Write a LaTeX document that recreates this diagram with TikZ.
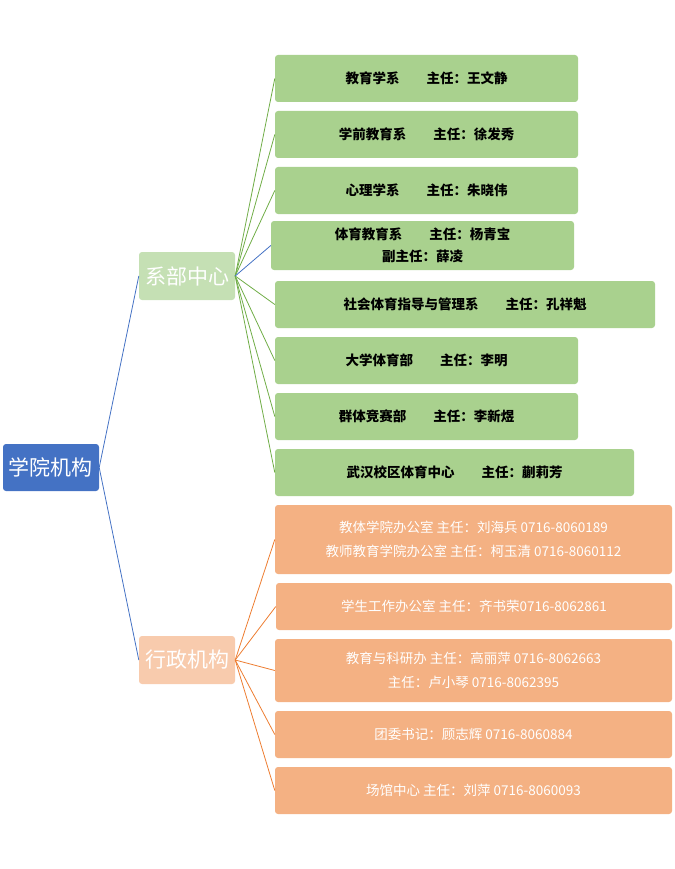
\documentclass[tikz,border=0pt]{standalone}
\usepackage{fontspec}
\setmainfont{Noto Sans CJK SC}
\definecolor{gfill}{HTML}{A9D18E}\definecolor{ofill}{HTML}{F4B183}
\definecolor{gline}{HTML}{70AD47}\definecolor{oline}{HTML}{ED7D31}\definecolor{bline}{HTML}{4472C4}
\definecolor{cgreen}{HTML}{C5E0B4}\definecolor{corange}{HTML}{F8CBAD}
\begin{document}
\begin{tikzpicture}[x=1pt,y=-1pt,
 g/.style={fill=gfill,rounded corners=3pt,draw=none,align=center,font=\fontsize{13.5}{22}\selectfont\bfseries,text=black},
 o/.style={fill=ofill,rounded corners=3pt,draw=none,align=center,font=\fontsize{13.5}{24}\selectfont,text=white},
 c/.style={rounded corners=3pt,minimum width=96,minimum height=48,text=white,font=\fontsize{21}{22}\selectfont},
 gl/.style={draw=gline,line width=0.8pt},
 ol/.style={draw=oline,line width=0.8pt},
 bl/.style={draw=bline,line width=0.8pt}]
\useasboundingbox (0,0) rectangle (674,869);
\node[g,minimum width=303,minimum height=47] (g1) at (426.5,78.5) {教育学系\quad\quad 主任：王文静};
\node[g,minimum width=303,minimum height=47] (g2) at (426.5,134.5) {学前教育系\quad\quad 主任：徐发秀};
\node[g,minimum width=303,minimum height=47] (g3) at (426.5,190.5) {心理学系\quad\quad 主任：朱晓伟};
\node[g,minimum width=303,minimum height=49] (g4) at (422.5,245.5) {体育教育系\quad\quad 主任：杨青宝\\副主任：薛凌};
\node[g,minimum width=380,minimum height=47] (g5) at (465,304.5) {社会体育指导与管理系\quad\quad 主任：孔祥魁};
\node[g,minimum width=303,minimum height=47] (g6) at (426.5,360.5) {大学体育部\quad\quad 主任：李明};
\node[g,minimum width=303,minimum height=47] (g7) at (426.5,416.5) {群体竞赛部\quad\quad 主任：李新煜};
\node[g,minimum width=359,minimum height=47] (g8) at (454.5,472.5) {武汉校区体育中心\quad\quad 主任：蒯莉芳};
\node[o,minimum width=397,minimum height=69] (o1) at (473.5,539.5) {教体学院办公室 主任：刘海兵 0716-8060189\\教师教育学院办公室 主任：柯玉清 0716-8060112};
\node[o,minimum width=396,minimum height=47] (o2) at (474,606.5) {学生工作办公室 主任：齐书荣0716-8062861};
\node[o,minimum width=397,minimum height=63] (o3) at (473.5,670.5) {教育与科研办 主任：高丽萍 0716-8062663\\主任：卢小琴 0716-8062395};
\node[o,minimum width=397,minimum height=47] (o4) at (473.5,734.5) {团委书记：顾志辉 0716-8060884};
\node[o,minimum width=397,minimum height=47] (o5) at (473.5,790.5) {场馆中心 主任：刘萍 0716-8060093};
\node[c,fill=cgreen] (c1) at (187,276) {系部中心};
\node[c,fill=corange] (c2) at (187,660) {行政机构};
\node[c,fill=bline,minimum height=47] (r) at (51,467.5) {学院机构};
\draw[bl] (r.east) -- (c1.west);
\draw[bl] (r.east) -- (c2.west);
\foreach \n in {g1,g2,g3,g5,g6,g7,g8} \draw[gl] (c1.east) -- (\n.west);
\draw[bl] (c1.east) -- (g4.west);
\foreach \n in {o1,o2,o3,o4,o5} \draw[ol] (c2.east) -- (\n.west);
\end{tikzpicture}
\end{document}
